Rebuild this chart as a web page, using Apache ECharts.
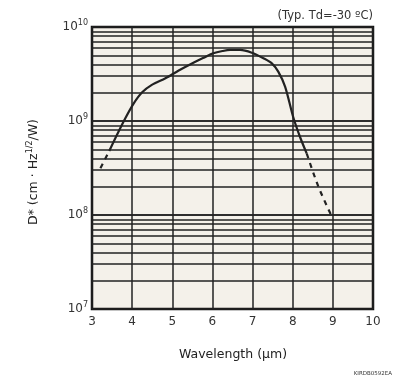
<!DOCTYPE html>
<html><head><meta charset="utf-8">
<script src="https://cdn.jsdelivr.net/npm/echarts@6/dist/echarts.min.js"></script>
<style>html,body{margin:0;padding:0;background:#fff}#c{width:396px;height:380px}</style>
</head><body><div id="c"></div>
<script>
// Wavelength (µm) and D* values
const solidX = [3.43, 3.62, 3.83, 4.04, 4.25, 4.49, 4.83, 5.16, 5.49, 5.80, 6.02, 6.25, 6.44, 6.69, 6.98, 7.27, 7.48, 7.64, 7.81, 8.01, 8.18, 8.35];
const solidY = [4.8e8, 7.1e8, 1.07e9, 1.54e9, 2.02e9, 2.42e9, 2.85e9, 3.45e9, 4.1e9, 4.75e9, 5.25e9, 5.55e9, 5.7e9, 5.7e9, 5.33e9, 4.65e9, 4.1e9, 3.35e9, 2.32e9, 1.11e9, 6.8e8, 4.5e8];
const dashLeftX = [3.21, 3.43];
const dashLeftY = [3.15e8, 4.8e8];
const dashRightX = [8.35, 8.64, 8.98];
const dashRightY = [4.5e8, 2.0e8, 9.5e7];
const xTicks = [3, 4, 5, 6, 7, 8, 9, 10];
const minorGrid = [2e7,3e7,4e7,5e7,6e7,7e7,8e7,9e7,1e8,2e8,3e8,4e8,5e8,6e8,7e8,8e8,9e8,1e9,2e9,3e9,4e9,5e9,6e9,7e9,8e9,9e9];

const pair = (xs, ys) => xs.map((x, i) => [x, ys[i]]);
const lineCol = '#222';
const chart = echarts.init(document.getElementById('c'), null, {renderer: 'canvas'});
chart.setOption({
  animation: false,
  backgroundColor: '#fff',
  grid: {left: 92, top: 27, width: 281, height: 282, show: true, backgroundColor: '#f4f1ea', borderColor: '#111', borderWidth: 2.5, z: 0},
  xAxis: {
    type: 'value', min: 3, max: 10, interval: 1,
    axisLine: {show: false}, axisTick: {show: false},
    splitLine: {show: true, lineStyle: {color: lineCol, width: 1.5}},
    axisLabel: {color: '#333', fontSize: 12, fontFamily: 'DejaVu Sans', margin: 7,
      formatter: v => xTicks.includes(v) ? String(v) : ''}
  },
  yAxis: {
    type: 'log', min: 1e7, max: 1e10, logBase: 10,
    axisLine: {show: false}, axisTick: {show: false},
    splitLine: {show: true, lineStyle: {color: lineCol, width: 1.5}},
    axisLabel: {
      fontFamily: 'DejaVu Sans', margin: 4,
      formatter: v => '{b|10}{s|' + Math.round(Math.log10(v)) + '}',
      rich: {
        b: {fontSize: 12, color: '#333', fontFamily: 'DejaVu Sans'},
        s: {fontSize: 8, color: '#333', fontFamily: 'DejaVu Sans', verticalAlign: 'top', padding: [0, 0, 9, 0]}
      }
    }
  },
  graphic: [
    {type: 'text', right: 23, top: 10, style: {text: '(Typ. Td=-30 ºC)', fontSize: 11.5, fill: '#333', fontFamily: 'DejaVu Sans'}},
    {type: 'text', left: 179, top: 348, style: {text: 'Wavelength (µm)', fontSize: 12.5, fill: '#222', fontFamily: 'DejaVu Sans'}},
    {type: 'text', right: 4, top: 371, style: {text: 'KIRDB0592EA', fontSize: 5.5, fill: '#333', fontFamily: 'DejaVu Sans'}},
    {type: 'text', x: 26, y: 225, rotation: Math.PI / 2,
      style: {
        text: '{a|D* (cm · Hz}{s|1/2}{a|/W)}',
        rich: {
          a: {fontSize: 12.5, fill: '#222', fontFamily: 'DejaVu Sans'},
          s: {fontSize: 8, fill: '#222', fontFamily: 'DejaVu Sans', verticalAlign: 'top', padding: [0, 0, 8, 0]}
        }
      }}
  ],
  series: [
    {type: 'line', data: minorGrid.map(v => [3, v]), symbol: 'none', lineStyle: {width: 0}, silent: true, z: 1,
      markLine: {silent: true, symbol: 'none', label: {show: false}, animation: false,
        lineStyle: {color: lineCol, width: 1.5, type: 'solid'},
        data: minorGrid.map(v => ({yAxis: v}))}},
    {type: 'line', data: pair(solidX, solidY), smooth: 0.3, symbol: 'none', z: 5,
      lineStyle: {color: '#222', width: 2.2}},
    {type: 'line', data: pair(dashLeftX, dashLeftY), symbol: 'none', z: 5,
      lineStyle: {color: '#222', width: 2.2, type: [5, 5]}},
    {type: 'line', data: pair(dashRightX, dashRightY), smooth: 0.3, symbol: 'none', z: 5,
      lineStyle: {color: '#222', width: 2.2, type: [5, 5]}}
  ]
});
</script></body></html>
